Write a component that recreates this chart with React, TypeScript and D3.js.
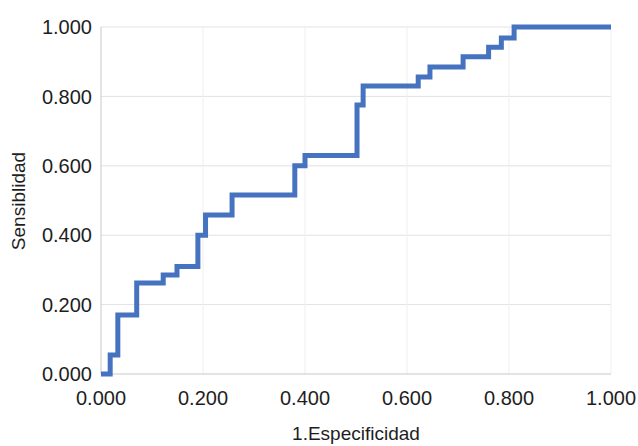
import React from 'react';
import * as d3 from 'd3';

// ROC curve step corners: at each fpr value the sensitivity jumps to tpr
const fpr = [0, 0.018, 0.033, 0.07, 0.122, 0.149, 0.19, 0.205, 0.257, 0.38, 0.4, 0.502, 0.514, 0.622, 0.645, 0.71, 0.76, 0.785, 0.81, 1.0];
const tpr = [0, 0.055, 0.17, 0.262, 0.285, 0.31, 0.4, 0.458, 0.516, 0.6, 0.63, 0.775, 0.83, 0.856, 0.885, 0.914, 0.942, 0.968, 1.0, 1.0];

const xTicks = [0, 0.2, 0.4, 0.6, 0.8, 1.0];
const yTicks = [0, 0.2, 0.4, 0.6, 0.8, 1.0];

const X_LABEL = '1.Especificidad';
const Y_LABEL = 'Sensiblidad';

const WIDTH = 638;
const HEIGHT = 446;
const LEFT = 101;
const RIGHT = 611;
const TOP = 27;
const BOTTOM = 374;
const FONT = 'Liberation Sans, Arial, sans-serif';

export default function App() {
  const x = d3.scaleLinear().domain([0, 1]).range([LEFT, RIGHT]);
  const y = d3.scaleLinear().domain([0, 1]).range([BOTTOM, TOP]);
  const fmt = d3.format('.3f');

  const points: [number, number][] = fpr.map((f, i) => [f, tpr[i]]);
  const line = d3
    .line<[number, number]>()
    .x(d => x(d[0]))
    .y(d => y(d[1]))
    .curve(d3.curveStepAfter);

  return (
    <svg
      width={WIDTH}
      height={HEIGHT}
      style={{ position: 'absolute', left: 0, top: 0, background: '#fff' }}
      fontFamily={FONT}
    >
      {/* grid, faint like the scanned original */}
      {yTicks.filter(t => t > 0).map(t => (
        <line key={'gy' + t} x1={LEFT} x2={RIGHT} y1={y(t)} y2={y(t)} stroke="#e2e2e2" strokeWidth={1} />
      ))}
      {xTicks.filter(t => t > 0).map(t => (
        <line key={'gx' + t} x1={x(t)} x2={x(t)} y1={TOP} y2={BOTTOM} stroke="#efefef" strokeWidth={1} />
      ))}
      {/* axes */}
      <line x1={LEFT} x2={LEFT} y1={TOP} y2={BOTTOM} stroke="#c8c8c8" strokeWidth={1} />
      <line x1={LEFT} x2={RIGHT} y1={BOTTOM} y2={BOTTOM} stroke="#c8c8c8" strokeWidth={1} />

      {yTicks.map(t => (
        <text key={'ty' + t} x={92} y={y(t)} dy="0.36em" textAnchor="end" fontSize={20} fill="#1e1e1e">
          {fmt(t)}
        </text>
      ))}
      {xTicks.map(t => (
        <text key={'tx' + t} x={x(t)} y={398} dy="0.36em" textAnchor="middle" fontSize={20} fill="#1e1e1e">
          {fmt(t)}
        </text>
      ))}

      <path d={line(points) || ''} fill="none" stroke="#4673c0" strokeWidth={5} strokeLinejoin="miter" />

      <text x={356} y={433} dy="0.36em" textAnchor="middle" fontSize={19} fill="#1e1e1e">
        {X_LABEL}
      </text>
      <text
        transform={`translate(18, 201) rotate(-90)`}
        dy="0.36em"
        textAnchor="middle"
        fontSize={19}
        fill="#1e1e1e"
      >
        {Y_LABEL}
      </text>
    </svg>
  );
}
